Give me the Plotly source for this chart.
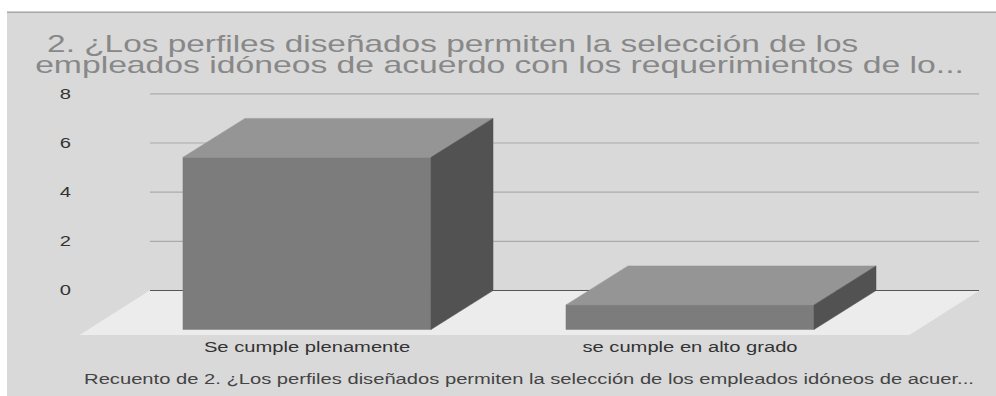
import plotly.graph_objects as go

# Chart content
categories = ["Se cumple plenamente", "se cumple en alto grado"]
counts = [7, 1]
y_ticks = [0, 2, 4, 6, 8]
title_lines = [
    "2. ¿Los perfiles diseñados permiten la selección de los",
    "empleados idóneos de acuerdo con los requerimientos de lo...",
]
footer = "Recuento de 2. ¿Los perfiles diseñados permiten la selección de los empleados idóneos de acuer..."

# Page and plot frame, in pixels
W, H = 996, 396
PLOT_L, PLOT_R, PLOT_T, PLOT_B = 80, 979, 84.4, 335.5

# Axis scales: one category = 383 px, one count = 24.6 px
X0_PX, X_SCALE = 307, 383
Y0_PX, Y_SCALE = 291, 24.6

# Oblique projection of the bars and of the floor, in axis units
BAR_HALF = 0.3238
BAR_DX, BAR_DY = 62 / X_SCALE, 39 / Y_SCALE
FLOOR_DX, FLOOR_DY = 70 / X_SCALE, 44.5 / Y_SCALE
WALL_L, WALL_R = (150 - X0_PX) / X_SCALE, (979 - X0_PX) / X_SCALE

C_PANEL, C_BORDER = "#d9d9d9", "#8c8c8c"
C_GRID, C_ZERO, C_FLOOR = "#ababab", "#565656", "#ececec"
C_FRONT, C_TOP, C_SIDE = "#7c7c7c", "#959595", "#525252"


def px_x(px):
    return (px - PLOT_L) / (PLOT_R - PLOT_L)


def px_y(px):
    return (PLOT_B - px) / (PLOT_B - PLOT_T)


def polygon(xs, ys, color):
    return go.Scatter(
        x=xs + xs[:1], y=ys + ys[:1], mode="lines", fill="toself",
        fillcolor=color, line=dict(color=color, width=0.5),
        hoverinfo="skip", showlegend=False, cliponaxis=False,
    )


fig = go.Figure()

# Floor
fig.add_trace(polygon(
    [WALL_L, WALL_R, WALL_R - FLOOR_DX, WALL_L - FLOOR_DX],
    [0, 0, -FLOOR_DY, -FLOOR_DY],
    C_FLOOR,
))

# Back-wall gridlines
for t in y_ticks:
    fig.add_trace(go.Scatter(
        x=[WALL_L, WALL_R], y=[t, t], mode="lines",
        line=dict(color=C_ZERO if t == 0 else C_GRID, width=1.2),
        hoverinfo="skip", showlegend=False,
    ))

# Bars: front, top and side faces
for i, v in enumerate(counts):
    xl, xr = i - BAR_HALF, i + BAR_HALF
    base, top = -BAR_DY, v - BAR_DY
    fig.add_trace(polygon([xl, xr, xr, xl], [base, base, top, top], C_FRONT))
    fig.add_trace(polygon(
        [xl, xr, xr + BAR_DX, xl + BAR_DX], [top, top, v, v], C_TOP))
    fig.add_trace(polygon(
        [xr, xr + BAR_DX, xr + BAR_DX, xr], [base, 0, v, top], C_SIDE))

# Title lines and footer, each centred on its own pixel position
texts = [
    (title_lines[0], 452, 44, 23.2, "#888888"),
    (title_lines[1], 499.5, 65, 23.4, "#888888"),
    (footer, 529, 379.5, 14, "#444444"),
]
annotations = [
    dict(text=t, x=px_x(cx), y=px_y(cy), xref="paper", yref="paper",
         xanchor="center", yanchor="middle", showarrow=False,
         font=dict(family="Liberation Sans", size=s, color=c))
    for t, cx, cy, s, c in texts
]

fig.update_layout(
    width=W, height=H,
    margin=dict(l=PLOT_L, r=W - PLOT_R, t=PLOT_T, b=H - PLOT_B, autoexpand=False),
    paper_bgcolor="#ffffff", plot_bgcolor="rgba(0,0,0,0)",
    showlegend=False, annotations=annotations,
    font=dict(family="Liberation Sans", size=14, color="#333333"),
    shapes=[
        dict(type="rect", layer="below", xref="paper", yref="paper",
             x0=px_x(7), x1=px_x(W + 2), y0=px_y(H + 2), y1=px_y(12),
             fillcolor=C_PANEL, line=dict(width=0)),
        dict(type="line", layer="below", xref="paper", yref="paper",
             x0=px_x(7), x1=px_x(W + 2), y0=px_y(12.5), y1=px_y(12.5),
             line=dict(color=C_BORDER, width=1)),
    ],
    xaxis=dict(
        range=[(PLOT_L - X0_PX) / X_SCALE, (PLOT_R - X0_PX) / X_SCALE],
        tickmode="array", tickvals=list(range(len(categories))), ticktext=categories,
        showgrid=False, zeroline=False, showline=False, ticks="", fixedrange=True,
        ticklabelstandoff=2,
    ),
    yaxis=dict(
        range=[(Y0_PX - PLOT_B) / Y_SCALE, (Y0_PX - PLOT_T) / Y_SCALE],
        tickmode="array", tickvals=y_ticks,
        showgrid=False, zeroline=False, showline=False, ticks="", fixedrange=True,
        ticklabelstandoff=8,
    ),
)

# The text in this chart is set wide: stretch each label horizontally about its anchor
widen = """
document.querySelectorAll('.xtick text, .ytick text, .annotation-text').forEach(function (el) {
  var w = el.getComputedTextLength();
  el.setAttribute('lengthAdjust', 'spacingAndGlyphs');
  el.setAttribute('textLength', w * 1.44);
});
"""

fig.write_html("out.html", config={"displayModeBar": False}, post_script=widen)
